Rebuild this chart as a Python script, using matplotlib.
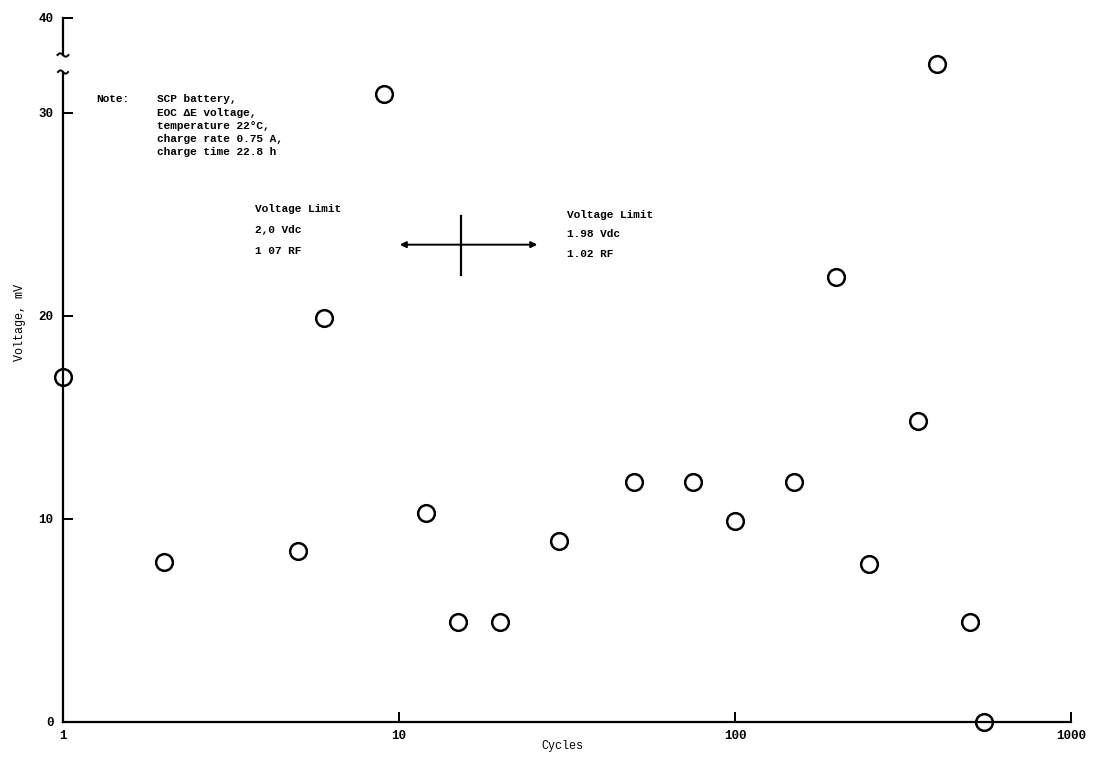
import numpy as np
import matplotlib.pyplot as plt

# data
cycles = [1, 2, 5, 6, 9, 12, 15, 20, 30, 50, 75, 100, 150, 200, 250, 350, 400, 500, 550]
voltage_mv = [17.0, 7.9, 8.4, 19.9, 30.9, 10.3, 4.9, 4.9, 8.9, 11.8, 11.8, 9.9, 11.8, 21.9, 7.8, 14.8, 32.4, 4.9, 0.0]
x_ticks = [1, 10, 100, 1000]
y_ticks = [0, 10, 20, 30]

note_lines = ["SCP battery,", "EOC \u0394E voltage,", "temperature 22\u00b0C,",
              "charge rate 0.75 A,", "charge time 22.8 h"]
left_limit = ["Voltage Limit", "2,0 Vdc", "1 07 RF"]
right_limit = ["Voltage Limit", "1.98 Vdc", "1.02 RF"]

plt.rcParams['font.family'] = ['Liberation Mono', 'DejaVu Sans Mono']
plt.rcParams['font.weight'] = 'bold'

W, H = 1097, 759
fig = plt.figure(figsize=(W / 100, H / 100), dpi=100)
fig.patch.set_facecolor('white')

# main (lower) axes
ax = fig.add_axes([63 / W, 37 / H, (1071 - 63) / W, (722 - 72) / H])
ax.set_xscale('log')
ax.set_xlim(1, 1000)
ax.set_ylim(0, 32.0)
for s in ['top', 'right']:
    ax.spines[s].set_visible(False)
for s in ['left', 'bottom']:
    ax.spines[s].set_linewidth(1.6)
ax.set_xticks(x_ticks)
ax.set_xticklabels([str(t) for t in x_ticks])
ax.xaxis.set_minor_locator(plt.NullLocator())
ax.set_yticks(y_ticks)
ax.tick_params(direction='in', length=7, width=1.4, labelsize=9)
ax.tick_params(axis='y', pad=7)
ax.tick_params(axis='x', pad=6)

ax.plot(cycles, voltage_mv, 'o', ms=12, mfc='none', mec='black', mew=1.8, clip_on=False)

ax.set_xlabel('Cycles', fontsize=8.5)
ax.xaxis.set_label_coords(0.495, -0.027)
ax.set_ylabel('Voltage, mV', fontsize=8.5)
ax.yaxis.set_label_coords(-0.037, 0.615)

# broken-axis curl at top of lower spine
t = np.linspace(0, 1, 30)
ax.plot(-0.005 + 0.01 * t, 1.0 + 0.0025 * np.sin(2 * np.pi * t), color='black',
        lw=1.4, transform=ax.transAxes, clip_on=False)

# upper stub axis carrying the 40 label
ax_top = fig.add_axes([63 / W, (H - 55) / H, 0.3, (55 - 18) / H])
ax_top.set_ylim(38.2, 40)
ax_top.patch.set_visible(False)
for s in ['top', 'right', 'bottom']:
    ax_top.spines[s].set_visible(False)
ax_top.spines['left'].set_linewidth(1.6)
ax_top.set_xticks([])
ax_top.set_yticks([40])
ax_top.tick_params(direction='in', length=7, width=1.4, labelsize=9, pad=7)
ax_top.plot(-0.0167 + 0.0333 * t, 0.045 * np.sin(2 * np.pi * t), color='black',
            lw=1.4, transform=ax_top.transAxes, clip_on=False)

# note
fs = 8
ax.text(1.26, 30.9, 'Note:', fontsize=fs, va='top', ha='left')
ax.text(1.90, 30.9, '\n'.join(note_lines), fontsize=fs, va='top', ha='left', linespacing=1.4)

# voltage limit annotations
ax.text(3.73, 25.5, '\n'.join(left_limit), fontsize=fs, va='top', ha='left', linespacing=2.35)
ax.text(31.6, 25.2, '\n'.join(right_limit), fontsize=fs, va='top', ha='left', linespacing=2.15)
ax.annotate('', xy=(26.3, 23.5), xytext=(9.86, 23.5),
            arrowprops=dict(arrowstyle='<|-|>', color='black', lw=1.4, mutation_scale=9))
ax.plot([15.3, 15.3], [22.0, 24.9], color='black', lw=1.6)

fig.savefig('out.png', dpi=100)
